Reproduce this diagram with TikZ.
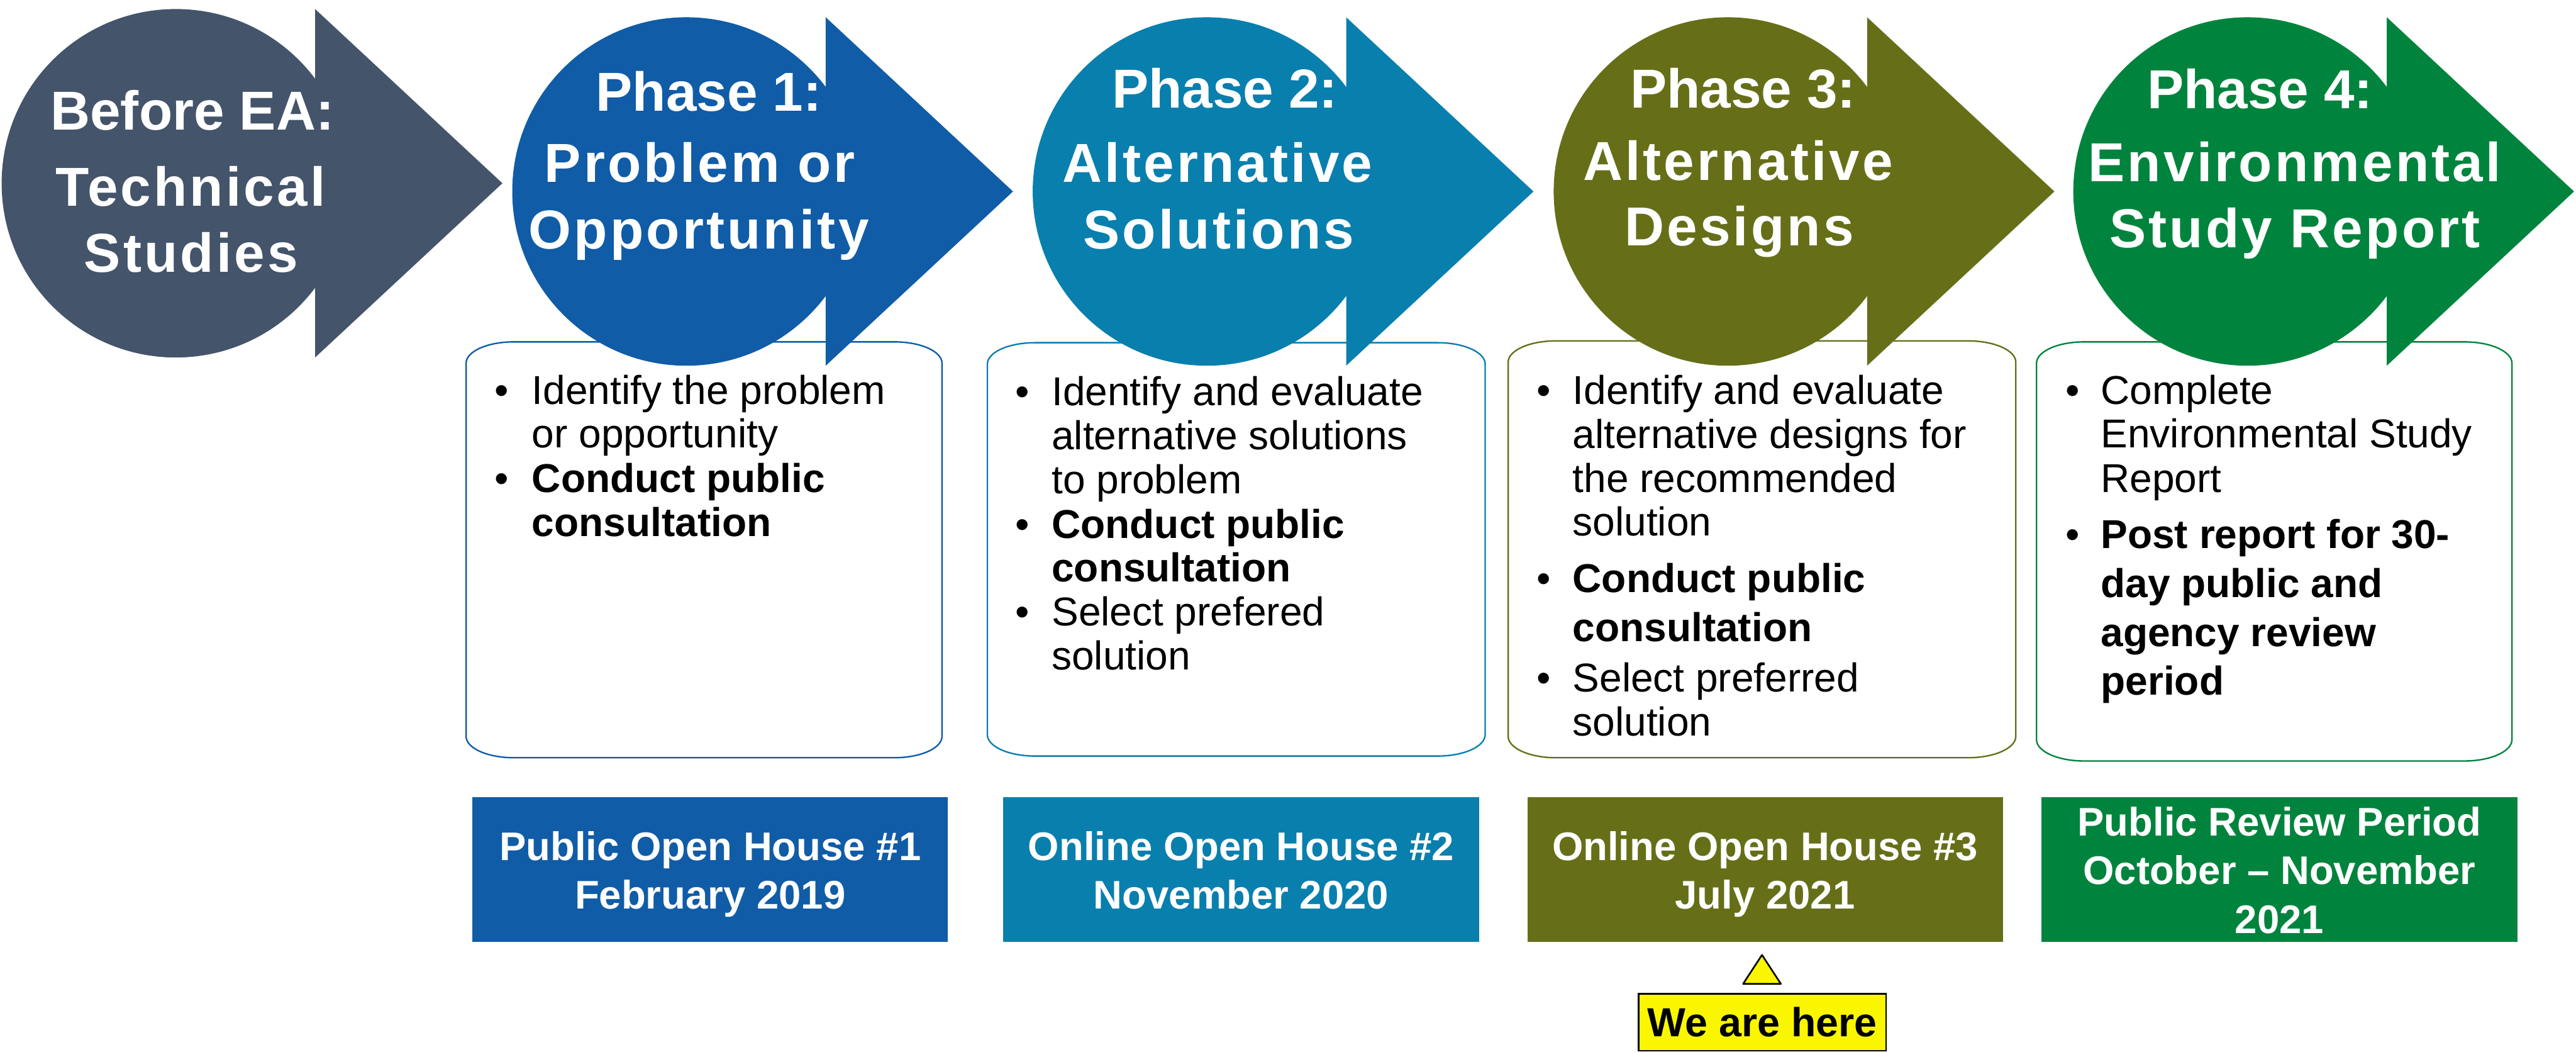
\documentclass[tikz,border=0pt]{standalone}
\usepackage{fontspec}
\setmainfont{Liberation Sans}
\newfontfamily\titlefont[LetterSpace=4.8]{Liberation Sans}

\definecolor{slate}{RGB}{68,84,106}
\definecolor{phaseA}{RGB}{16,92,167}
\definecolor{phaseB}{RGB}{9,127,174}
\definecolor{phaseC}{RGB}{102,111,24}
\definecolor{phaseD}{RGB}{0,132,61}
\definecolor{hereyellow}{RGB}{250,246,0}

% rounded box with elliptical corners: style, x1, y1, x2, y2
\newcommand\softbox[5]{%
  \draw[#1] (#2+29,#3) -- (#4-29,#3)
    .. controls (#4-13,#3) and (#4,#3+5.8) .. (#4,#3+13) -- (#4,#5-13)
    .. controls (#4,#5-5.8) and (#4-13,#5) .. (#4-29,#5) -- (#2+29,#5)
    .. controls (#2+13,#5) and (#2,#5-5.8) .. (#2,#5-13) -- (#2,#3+13)
    .. controls (#2,#3+5.8) and (#2+13,#3) .. (#2+29,#3) -- cycle;}

% circle-plus-chevron phase shape: colour, centre x, centre y
\newcommand\phaseshape[3]{%
  \fill[#1] (#2,#3) circle[radius=106pt];
  \fill[#1] (#2+84.8,#3-106) -- (#2+198.8,#3) -- (#2+84.8,#3+106) -- cycle;}

\tikzset{
  ttl/.style={anchor=base, inner sep=0pt, outer sep=0pt, text=white,
    font=\titlefont\bfseries\fontsize{33.4}{40}\selectfont},
  ttlhead/.style={anchor=base, inner sep=0pt, outer sep=0pt, text=white,
    font=\bfseries\fontsize{33.4}{40}\selectfont},
  bodyl/.style={anchor=base west, inner sep=0pt, outer sep=0pt,
    font=\fontsize{24.5}{26.7}\selectfont},
  bodyb/.style={anchor=base west, inner sep=0pt, outer sep=0pt,
    font=\bfseries\fontsize{24.5}{26.7}\selectfont},
  bul/.style={anchor=base, inner sep=0pt, outer sep=0pt,
    font=\fontsize{24.5}{26.7}\selectfont},
  datebox/.style={inner sep=0pt, minimum width=289.5pt, minimum height=88pt},
  datel/.style={anchor=base, inner sep=0pt, outer sep=0pt, text=white,
    font=\bfseries\fontsize{24.3}{29.7}\selectfont},
  frameline/.style={line width=0.9pt, fill=white},
}

\begin{document}
\begin{tikzpicture}[x=1pt, y=-1pt]
\useasboundingbox (0,0) rectangle (1568,640);
\fill[white] (0,0) rectangle (1568,640);

% activity boxes (drawn first so the phase shapes overlap them)
\softbox{frameline, draw=phaseA}{283.7}{208}{573.4}{461}
\softbox{frameline, draw=phaseB}{601}{208.5}{904}{460}
\softbox{frameline, draw=phaseC}{918}{207.4}{1227}{461}
\softbox{frameline, draw=phaseD}{1239.6}{208}{1529}{463}

% phase shapes
\phaseshape{slate}{107}{111.5}
\phaseshape{phaseA}{417.8}{116.5}
\phaseshape{phaseB}{734.6}{116.5}
\phaseshape{phaseC}{1051.7}{116.5}
\phaseshape{phaseD}{1368}{116.5}

% phase titles
\node[ttlhead] (t0a) at (117.1,79) {Before EA:};
\node[ttl] (t0b) at (115.9,125.4) {Technical};
\node[ttl] (t0c) at (116.3,165.4) {Studies};

\node[ttlhead] (t1a) at (431.5,67.7) {Phase 1:};
\node[ttl] (t1b) at (426,111) {Problem or};
\node[ttl] (t1c) at (425.3,151.3) {Opportunity};

\node[ttlhead] (t2a) at (745.5,65.7) {Phase 2:};
\node[ttl] (t2b) at (741.1,111) {Alternative};
\node[ttl] (t2c) at (741.8,151.3) {Solutions};

\node[ttlhead] (t3a) at (1061,65.7) {Phase 3:};
\node[ttl] (t3b) at (1057.9,109.5) {Alternative};
\node[ttl] (t3c) at (1058.7,149.5) {Designs};

\node[ttlhead] (t4a) at (1375.6,66.2) {Phase 4:};
\node[ttl] (t4b) at (1396.7,110.4) {Environmental};
\node[ttl] (t4c) at (1396.9,150.6) {Study Report};

% phase 1 activities
\node[bul] (b1a) at (305.5,246.1) {•};
\node[bodyl] (l1a) at (323.8,246.1) {Identify the problem};
\node[bodyl] (l1b) at (323.8,272.5) {or opportunity};
\node[bul] (b1b) at (305.5,299.5) {•};
\node[bodyb] (l1c) at (323.8,299.5) {Conduct public};
\node[bodyb] (l1d) at (323.8,326.2) {consultation};

% phase 2 activities
\node[bul] (b2a) at (622.5,246.9) {•};
\node[bodyl] (l2a) at (640.2,246.9) {Identify and evaluate};
\node[bodyl] (l2b) at (640.2,273.6) {alternative solutions};
\node[bodyl] (l2c) at (640.2,300.3) {to problem};
\node[bul] (b2b) at (622.5,327.3) {•};
\node[bodyb] (l2d) at (640.2,327.3) {Conduct public};
\node[bodyb] (l2e) at (640.2,354) {consultation};
\node[bul] (b2c) at (622.5,380.7) {•};
\node[bodyl] (l2f) at (640.2,380.7) {Select prefered};
\node[bodyl] (l2g) at (640.2,407.4) {solution};

% phase 3 activities
\node[bul] (b3a) at (939.7,246.1) {•};
\node[bodyl] (l3a) at (957.3,246.1) {Identify and evaluate};
\node[bodyl] (l3b) at (957.3,272.8) {alternative designs for};
\node[bodyl] (l3c) at (957.3,299.4) {the recommended};
\node[bodyl] (l3d) at (957.3,326) {solution};
\node[bul] (b3b) at (939.7,360.6) {•};
\node[bodyb] (l3e) at (957.3,360.6) {Conduct public};
\node[bodyb] (l3f) at (957.3,390.3) {consultation};
\node[bul] (b3c) at (939.7,421) {•};
\node[bodyl] (l3g) at (957.3,421) {Select preferred};
\node[bodyl] (l3h) at (957.3,447.7) {solution};

% phase 4 activities
\node[bul] (b4a) at (1261.7,246.1) {•};
\node[bodyl] (l4a) at (1278.8,246.1) {Complete};
\node[bodyl] (l4b) at (1278.8,272.5) {Environmental Study};
\node[bodyl] (l4c) at (1278.8,299.5) {Report};
\node[bul] (b4b) at (1261.7,333.8) {•};
\node[bodyb] (l4d) at (1278.8,333.8) {Post report for 30-};
\node[bodyb] (l4e) at (1278.8,363.6) {day public and};
\node[bodyb] (l4f) at (1278.8,393.5) {agency review};
\node[bodyb] (l4g) at (1278.8,423) {period};

% consultation dates
\node[datebox, fill=phaseA] (d1) at (432.3,529) {};
\node[datebox, fill=phaseB] (d2) at (755.5,529) {};
\node[datebox, fill=phaseC] (d3) at (1074.4,529) {};
\node[datebox, fill=phaseD] (d4) at (1387.5,529) {};

\node[datel] (d1a) at (432.3,523.3) {Public Open House \#1};
\node[datel] (d1b) at (432.3,553) {February 2019};
\node[datel] (d2a) at (755.5,523.3) {Online Open House \#2};
\node[datel] (d2b) at (755.5,553) {November 2020};
\node[datel] (d3a) at (1074.4,523.3) {Online Open House \#3};
\node[datel] (d3b) at (1074.4,553) {July 2021};
\node[datel] (d4a) at (1387.5,508.5) {Public Review Period};
\node[datel] (d4b) at (1387.5,538.2) {October – November};
\node[datel] (d4c) at (1387.5,568) {2021};

% current position marker
\draw[line width=1pt, fill=hereyellow, line join=round]
  (1072.5,581) -- (1084,598.6) -- (1061,598.6) -- cycle;
\node[draw=black, line width=1pt, fill=hereyellow, inner sep=0pt,
  minimum width=150.6pt, minimum height=34.7pt,
  font=\bfseries\fontsize{24.7}{28}\selectfont] (here) at (1072.7,622) {We are here};
\end{tikzpicture}
\end{document}
